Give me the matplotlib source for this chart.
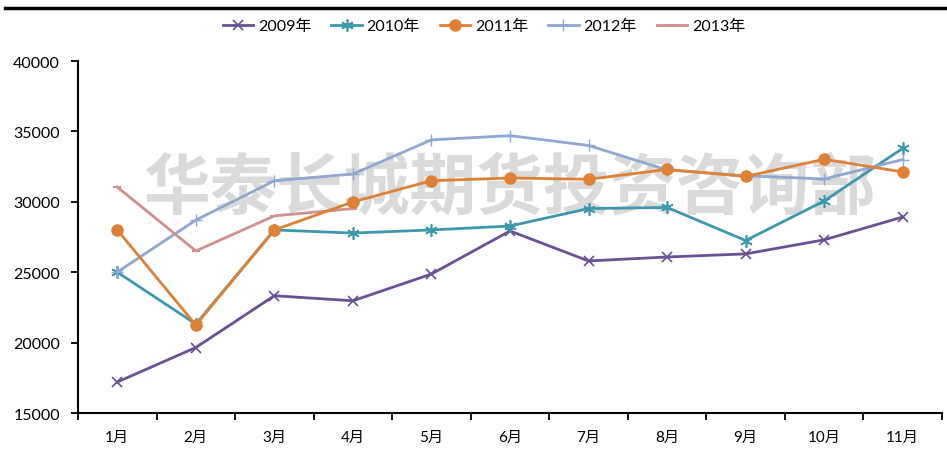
import matplotlib
matplotlib.use("Agg")
import matplotlib.pyplot as plt
from matplotlib.lines import Line2D
import numpy as np

plt.rcParams['font.family'] = ['Lato', 'Noto Sans CJK SC', 'DejaVu Sans']

months = ['1月', '2月', '3月', '4月', '5月', '6月', '7月', '8月', '9月', '10月', '11月']
y2009 = [17200, 19650, 23330, 22970, 24870, 27930, 25800, 26080, 26300, 27300, 28920]
y2010 = [25000, 21320, 28000, 27780, 28000, 28280, 29520, 29600, 27250, 30060, 33800]
y2011 = [28000, 21250, 28000, 29990, 31500, 31690, 31600, 32300, 31800, 33020, 32120]
y2012 = [25010, 28700, 31500, 31970, 34400, 34700, 34000, 32260, 31850, 31620, 33000]
y2013 = [31050, 26510, 29000, 29520]
yticks = [15000, 20000, 25000, 30000, 35000, 40000]

fig = plt.figure(figsize=(9.47, 4.56), dpi=100)
ax = fig.add_axes([78/947, 1-414/456, 864/947, 352/456])

x = np.arange(len(months))
ax.text(0.5, 0.64, '华泰长城期货投资咨询部', transform=ax.transAxes, ha='center', va='center',
        fontsize=48, fontweight='bold', color='#DADADA', family=['Noto Sans CJK SC'], zorder=0)

lw = 2.0
ax.plot(x, y2009, color='#6A5193', lw=lw, marker='x', ms=7, mew=1.2, label='2009年', zorder=3)
ax.plot(x, y2010, color='#3D98AE', lw=lw, marker=(6, 2, 0), ms=9, mew=1.2, label='2010年', zorder=3)
ax.plot(x, y2011, color='#DE8136', lw=lw, marker='o', ms=8, label='2011年', zorder=4)
ax.plot(x, y2012, color='#8EA7D3', lw=lw, marker='+', ms=9, mew=1.0, label='2012年', zorder=3)
ax.plot(x[:len(y2013)], y2013, color='#D28F8D', lw=lw, marker='_', ms=6, mew=1.5, label='2013年', zorder=3)

ax.set_xlim(-0.5, len(months) - 0.5)
ax.set_ylim(15000, 40000)
ax.set_yticks(yticks)
ax.set_yticklabels([str(v) for v in yticks], fontsize=11.5)
ax.set_xticks(x)
ax.set_xticklabels(months, fontsize=11)
ax.set_xticks(np.arange(-0.5, len(months)), minor=True)
ax.tick_params(axis='x', which='major', length=0, pad=12)
ax.tick_params(axis='x', which='minor', length=5, width=1.3, direction='out')
ax.tick_params(axis='y', length=5, width=1.3, direction='out', pad=8)

for s in ['top', 'right']:
    ax.spines[s].set_visible(False)
for s in ['left', 'bottom']:
    ax.spines[s].set_linewidth(1.5)
    ax.spines[s].set_color('black')

leg = fig.legend(loc='center', bbox_to_anchor=(484/947, 1-27/456), ncol=5, frameon=False,
                 fontsize=11.5, handlelength=1.9, columnspacing=1.25, handletextpad=0.3)

fig.add_artist(Line2D([5/947, 1.0], [1-9/456, 1-9/456], transform=fig.transFigure,
                      color='black', lw=2.5))

fig.savefig('out.png', dpi=100)
